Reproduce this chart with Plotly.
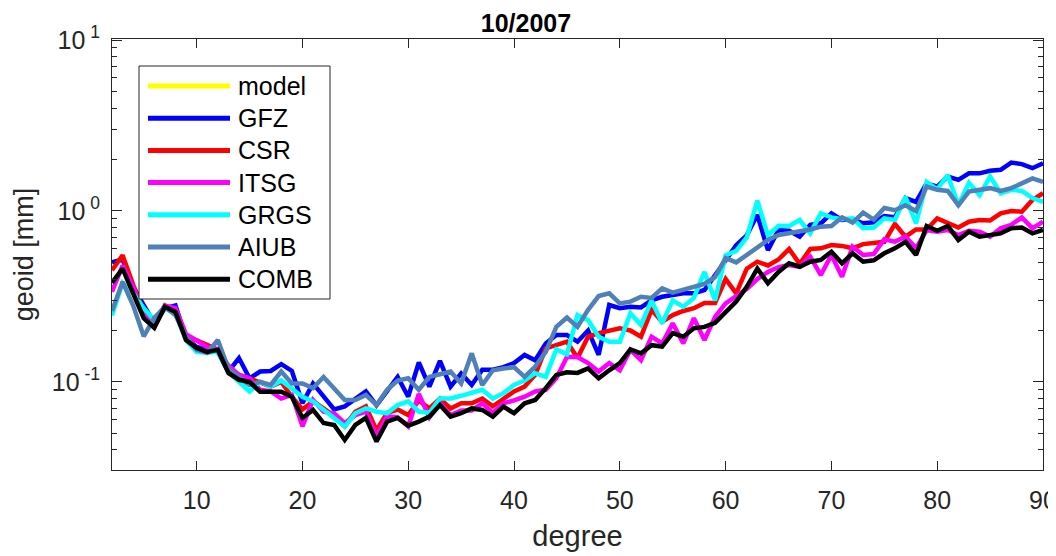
import plotly.graph_objects as go

degree = list(range(2, 91))

model = []  # no visible model curve in the picture (legend entry only)

gfz = [0.50, 0.52, 0.36, 0.28, 0.22, 0.27, 0.28, 0.18, 0.16, 0.155,
       0.15, 0.115, 0.138, 0.105, 0.115, 0.116, 0.127, 0.116, 0.075, 0.098,
       0.082, 0.069, 0.072, 0.080, 0.088, 0.073, 0.088, 0.107, 0.082, 0.13,
       0.094, 0.133, 0.094, 0.112, 0.096, 0.118, 0.118, 0.122, 0.129, 0.144,
       0.134, 0.168, 0.188, 0.188, 0.172, 0.20, 0.144, 0.282, 0.27, 0.275,
       0.273, 0.30, 0.315, 0.323, 0.33, 0.33, 0.345, 0.42, 0.52, 0.63,
       0.72, 0.95, 0.59, 0.774, 0.767, 0.708, 0.83, 0.847, 0.968, 0.886,
       0.894, 0.847, 0.86, 0.935, 0.918, 1.19, 1.13, 1.45, 1.39, 1.59,
       1.52, 1.66, 1.66, 1.72, 1.74, 1.92, 1.88, 1.78, 1.90]

csr = [0.45, 0.55, 0.37, 0.26, 0.22, 0.28, 0.26, 0.185, 0.175, 0.165,
       0.155, 0.12, 0.11, 0.105, 0.10, 0.094, 0.10, 0.082, 0.069, 0.077,
       0.070, 0.063, 0.055, 0.067, 0.072, 0.052, 0.066, 0.069, 0.064, 0.078,
       0.070, 0.080, 0.070, 0.075, 0.075, 0.080, 0.072, 0.080, 0.088, 0.094,
       0.11, 0.157, 0.165, 0.172, 0.138, 0.184, 0.193, 0.20, 0.206, 0.20,
       0.184, 0.264, 0.225, 0.246, 0.26, 0.27, 0.29, 0.29, 0.40, 0.33,
       0.46, 0.505, 0.48, 0.52, 0.60, 0.49, 0.60, 0.605, 0.632, 0.625,
       0.605, 0.64, 0.65, 0.66, 0.84, 0.708, 0.78, 0.78, 0.906, 0.847,
       0.80, 0.866, 0.886, 0.88, 0.968, 1.0, 0.99, 1.16, 1.27]

itsg = [0.337, 0.48, 0.36, 0.25, 0.22, 0.28, 0.27, 0.19, 0.175, 0.16,
        0.155, 0.125, 0.11, 0.105, 0.09, 0.088, 0.08, 0.084, 0.055, 0.0785,
        0.067, 0.0656, 0.0575, 0.064, 0.067, 0.048, 0.063, 0.062, 0.055, 0.085,
        0.062, 0.075, 0.064, 0.068, 0.068, 0.075, 0.066, 0.075, 0.078, 0.082,
        0.088, 0.09, 0.105, 0.14, 0.14, 0.129, 0.115, 0.129, 0.117, 0.154,
        0.134, 0.184, 0.168, 0.22, 0.168, 0.236, 0.176, 0.24, 0.288, 0.315,
        0.35, 0.40, 0.44, 0.47, 0.483, 0.472, 0.54, 0.422, 0.553, 0.413,
        0.618, 0.553, 0.56, 0.683, 0.661, 0.708, 0.605, 0.774, 0.757, 0.774,
        0.724, 0.767, 0.757, 0.708, 0.792, 0.83, 0.918, 0.792, 0.866]

grgs = [0.245, 0.38, 0.33, 0.27, 0.23, 0.27, 0.25, 0.175, 0.15, 0.148,
        0.15, 0.115, 0.10, 0.088, 0.10, 0.094, 0.102, 0.092, 0.082, 0.077,
        0.0686, 0.0616, 0.0548, 0.0656, 0.070, 0.067, 0.0656, 0.0733, 0.077, 0.067,
        0.066, 0.08, 0.08, 0.083, 0.086, 0.09, 0.08, 0.086, 0.096, 0.102,
        0.1125, 0.107, 0.155, 0.145, 0.246, 0.23, 0.184, 0.172, 0.172, 0.252,
        0.215, 0.30, 0.22, 0.30, 0.275, 0.31, 0.44, 0.30, 0.55, 0.585,
        0.70, 1.15, 0.72, 0.82, 0.817, 0.886, 0.74, 0.968, 0.918, 0.894,
        0.906, 0.792, 0.80, 0.906, 0.886, 1.21, 0.847, 1.48, 1.34, 1.62,
        1.08, 1.46, 1.24, 1.59, 1.27, 1.33, 1.31, 1.19, 1.13]

aiub = [0.26, 0.385, 0.28, 0.185, 0.237, 0.275, 0.246, 0.184, 0.154, 0.148,
        0.176, 0.12, 0.107, 0.096, 0.10, 0.096, 0.115, 0.098, 0.098, 0.092,
        0.107, 0.092, 0.0785, 0.0785, 0.084, 0.0733, 0.09, 0.102, 0.105, 0.09,
        0.107, 0.111, 0.115, 0.098, 0.147, 0.096, 0.117, 0.12, 0.122, 0.107,
        0.123, 0.15, 0.21, 0.238, 0.21, 0.264, 0.318, 0.33, 0.288, 0.295,
        0.315, 0.31, 0.353, 0.333, 0.345, 0.36, 0.374, 0.41, 0.53, 0.50,
        0.553, 0.605, 0.677, 0.724, 0.74, 0.767, 0.78, 0.81, 0.817, 0.918,
        0.855, 0.977, 0.89, 1.04, 1.01, 1.08, 1.0, 1.39, 1.33, 1.31,
        1.08, 1.30, 1.33, 1.36, 1.31, 1.36, 1.45, 1.55, 1.48]

comb = [0.38, 0.46, 0.33, 0.236, 0.207, 0.275, 0.257, 0.176, 0.158, 0.15,
        0.154, 0.113, 0.103, 0.10, 0.0877, 0.0877, 0.0877, 0.082, 0.0616, 0.0686,
        0.0575, 0.056, 0.0458, 0.056, 0.0616, 0.0448, 0.0586, 0.0616, 0.0555, 0.0586,
        0.0627, 0.0733, 0.0627, 0.0656, 0.070, 0.0686, 0.0627, 0.0717, 0.0656, 0.075,
        0.0785, 0.092, 0.11, 0.114, 0.113, 0.12, 0.105, 0.117, 0.129, 0.155,
        0.147, 0.164, 0.161, 0.193, 0.184, 0.206, 0.21, 0.222, 0.255, 0.295,
        0.36, 0.46, 0.378, 0.44, 0.494, 0.472, 0.505, 0.517, 0.578, 0.494,
        0.566, 0.505, 0.515, 0.566, 0.605, 0.661, 0.553, 0.817, 0.767, 0.817,
        0.677, 0.757, 0.708, 0.724, 0.74, 0.792, 0.80, 0.74, 0.774]

series_names = ["model", "GFZ", "CSR", "ITSG", "GRGS", "AIUB", "COMB"]
series_values = [model, gfz, csr, itsg, grgs, aiub, comb]
series_colors = ["#FFFF00", "#0000FF", "#FF0000", "#FF00FF", "#00FFFF", "#4F81B8", "#000000"]

y_tick_vals = [0.1, 1, 10]
y_tick_text = ["10<sup>\u00a0-1</sup>", "10<sup>\u00a00</sup>", "10<sup>\u00a01</sup>"]
x_tick_vals = [10, 20, 30, 40, 50, 60, 70, 80, 90]
y_minor_vals = [m * d for d in (0.01, 0.1, 1) for m in range(2, 10)]

FONT = "Liberation Sans, Arial, Helvetica, sans-serif"
INK = "#262626"

# The page body adds an 8 px offset, so the figure is 8 px smaller each way
FIG_W, FIG_H = 1048, 548
M_L, M_R, M_T, M_B = 104, 13, 31, 86

# pixel spots (page coordinates) mapped to paper fractions
plot_l, plot_r, plot_t, plot_b = 112, 1043, 39, 470
pw, ph = plot_r - plot_l, plot_b - plot_t


def px_x(px):
    return (px - plot_l) / pw


def px_y(py):
    return (plot_b - py) / ph


fig = go.Figure()
for name, vals, col in zip(series_names, series_values, series_colors):
    fig.add_trace(go.Scatter(
        x=degree[:len(vals)], y=vals, mode="lines", name=name,
        line=dict(color=col, width=4.5), showlegend=False))

fig.update_layout(
    width=FIG_W, height=FIG_H,
    margin=dict(l=M_L, r=M_R, t=M_T, b=M_B, autoexpand=False),
    paper_bgcolor="white", plot_bgcolor="white",
    font=dict(family=FONT, color=INK),
    title=dict(text="<b>10/2007</b>", x=px_x(526), xref="paper", xanchor="center",
               y=1 - 15 / FIG_H, yref="container", yanchor="middle",
               font=dict(size=25, color="#000000", family=FONT)),
)

fig.update_xaxes(
    range=[2, 90], tickmode="array", tickvals=x_tick_vals,
    ticks="inside", ticklen=9, tickwidth=1, tickcolor=INK,
    showline=True, linecolor=INK, linewidth=1, mirror="ticks",
    showgrid=False, zeroline=False, automargin=False,
    ticklabeloverflow="allow",
    tickfont=dict(size=25, family=FONT, color=INK),
    ticklabelstandoff=8,
    title=dict(text="degree", font=dict(size=29, family=FONT, color=INK), standoff=12),
)

fig.update_yaxes(
    type="log", range=[-1.515, 1.006], tickmode="array",
    tickvals=y_tick_vals, ticktext=y_tick_text,
    ticks="inside", ticklen=10, tickwidth=1, tickcolor=INK,
    minor=dict(ticks="inside", ticklen=5, tickcolor=INK, tickmode="array",
               tickvals=y_minor_vals, showgrid=False),
    showline=True, linecolor=INK, linewidth=1, mirror="ticks",
    showgrid=False, zeroline=False, automargin=False,
    ticklabeloverflow="allow",
    tickfont=dict(size=25, family=FONT, color=INK),
    ticklabelstandoff=6,
    title=dict(text="geoid [mm]", font=dict(size=27, family=FONT, color=INK), standoff=10),
)

# MATLAB-style legend box (opaque, drawn over the curves)
fig.add_shape(type="rect", xref="paper", yref="paper",
              x0=px_x(139), x1=px_x(330), y0=px_y(299), y1=px_y(66),
              fillcolor="white", line=dict(color=INK, width=1), layer="above")
row0, row_step = 86, 32.2
for i, (name, col) in enumerate(zip(series_names, series_colors)):
    yy = px_y(row0 + i * row_step)
    fig.add_shape(type="line", xref="paper", yref="paper",
                  x0=px_x(148), x1=px_x(230), y0=yy, y1=yy,
                  line=dict(color=col, width=5), layer="above")
    fig.add_annotation(xref="paper", yref="paper", x=px_x(236), y=yy,
                       text=name, showarrow=False, xanchor="left", yanchor="middle",
                       font=dict(size=25, family=FONT, color="#000000"))

fig.write_html("out.html")
